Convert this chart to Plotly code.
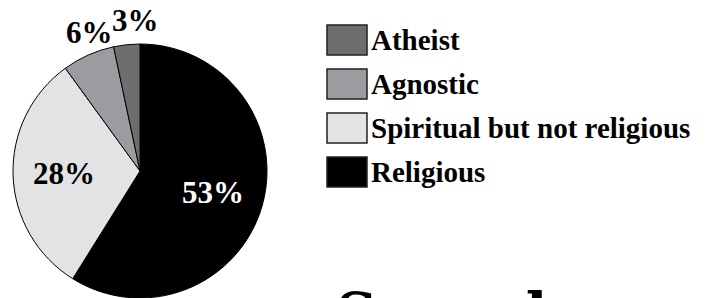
import math
import plotly.graph_objects as go

W, H = 712, 298

# Data (legend order)
labels = ["Atheist", "Agnostic", "Spiritual but not religious", "Religious"]
values = [3, 6, 28, 53]
colors = ["#6e6e6e", "#9b9ca0", "#e2e3e5", "#000000"]
label_outside = [True, True, False, False]
text_colors = ["#000000", "#000000", "#000000", "#ffffff"]
next_heading = "Sexual"

SERIF = "Liberation Serif, Times New Roman, serif"

# pie geometry (pixels)
PIE_L, PIE_R, PIE_T = 12, 268, 44
cx = (PIE_L + PIE_R) / 2
radius = min(PIE_R - PIE_L, H - PIE_T) / 2
cy = H - radius

# pie drawn clockwise from 12 o'clock: Religious first
rev = slice(None, None, -1)
fig = go.Figure()
fig.add_trace(go.Pie(
    labels=labels[rev],
    values=values[rev],
    sort=False,
    direction="clockwise",
    rotation=0,
    marker=dict(colors=colors[rev], line=dict(color="#000000", width=1)),
    textinfo="none",
    showlegend=False,
    hoverinfo="skip",
    domain=dict(x=[PIE_L / W, PIE_R / W], y=[0, 1 - PIE_T / H]),
))

annotations = []
# percentage labels placed at each slice's mid-angle
total = sum(values)
cum = 0.0
for v, o, tc in zip(values, label_outside, text_colors):
    mid = (cum + v / 2) / total * 2 * math.pi  # counter-clockwise from 12 o'clock
    cum += v
    lr = radius * (1.19 if o else 0.6)
    px = cx - lr * math.sin(mid)
    py = cy - lr * math.cos(mid)
    annotations.append(dict(
        xref="paper", yref="paper", x=px / W, y=1 - py / H,
        xanchor="center", yanchor="middle", showarrow=False, text=f"{v}%",
        xshift=11 if o else 0,
        font=dict(family=SERIF, size=31, color=tc, weight="bold"),
    ))

# Custom legend built from the label/colour lists
shapes = []
x0, x1 = 327, 367
row_top0, row_step, box_h = 25, 44, 30
for i, (lab, col) in enumerate(zip(labels, colors)):
    top = row_top0 + i * row_step
    shapes.append(dict(
        type="rect", xref="paper", yref="paper",
        x0=x0 / W, x1=x1 / W, y0=1 - (top + box_h) / H, y1=1 - top / H,
        fillcolor=col, line=dict(color="#222222", width=1.5),
    ))
    annotations.append(dict(
        xref="paper", yref="paper", x=369 / W, y=1 - (top + box_h / 2) / H,
        xanchor="left", yanchor="middle", showarrow=False, text=lab,
        font=dict(family=SERIF, size=29, color="#000000", weight="bold"),
    ))

annotations.append(dict(
    xref="paper", yref="paper", x=334 / W, y=1 - 278 / H,
    xanchor="left", yanchor="top", showarrow=False, text=next_heading,
    font=dict(family="DejaVu Serif, serif", size=57, color="#000000", weight="bold"),
))

fig.update_layout(
    width=W, height=H,
    margin=dict(l=0, r=0, t=0, b=0),
    paper_bgcolor="#ffffff", plot_bgcolor="#ffffff",
    shapes=shapes, annotations=annotations,
)

fig.write_html(
    "out.html",
    config={"displayModeBar": False, "staticPlot": True},
    post_script="document.body.style.margin='0';document.body.style.overflow='hidden';",
)
